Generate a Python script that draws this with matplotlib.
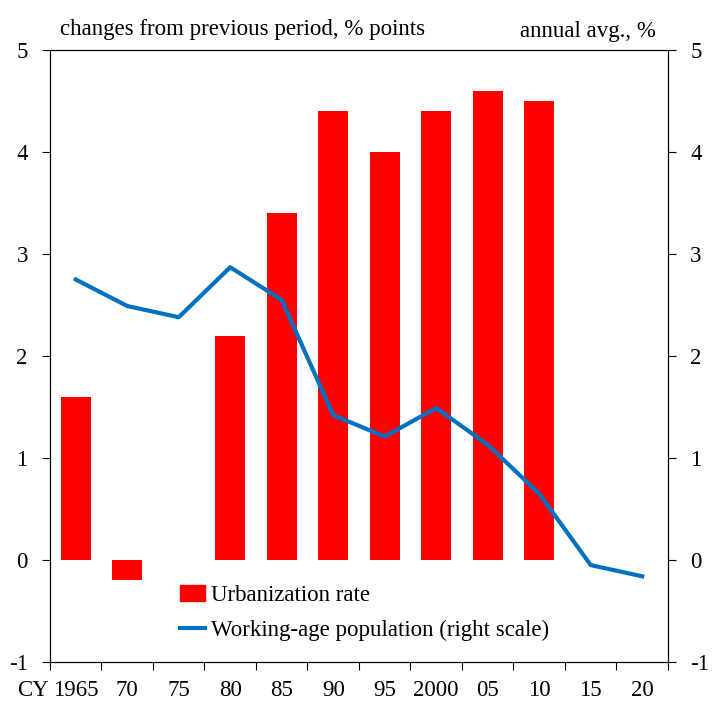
import numpy as np
import matplotlib.pyplot as plt
import matplotlib.transforms as mtrans
from matplotlib.patches import Patch
from matplotlib.lines import Line2D

plt.rcParams['font.family'] = ['Liberation Serif', 'DejaVu Serif']
plt.rcParams['axes.unicode_minus'] = False

labels = ['1965', '70', '75', '80', '85', '90', '95', '2000', '05', '10', '15', '20']
urban = [1.6, -0.2, 0.0, 2.2, 3.4, 4.4, 4.0, 4.4, 4.6, 4.5, np.nan, np.nan]
workage = [2.75, 2.49, 2.38, 2.87, 2.55, 1.42, 1.21, 1.49, 1.13, 0.65, -0.05, -0.16]

x = np.arange(len(labels))
fs = 16.5

fig = plt.figure(figsize=(7.18, 7.09), dpi=100)
ax = fig.add_axes([0.0696, 0.0663, 0.8607, 0.8632])
ax.bar(x, urban, width=0.58, color='#FF0000')
ax2 = ax.twinx()
ax2.plot(x, workage, color='#0070C0', lw=3)

for a in (ax, ax2):
    a.set_ylim(-1, 5)
    a.set_yticks(range(-1, 6))
    a.tick_params(labelsize=fs, length=6, width=0.8, direction='out')
ax.set_xlim(-0.5, len(labels) - 0.5)
ax.set_xticks(np.arange(-0.5, len(labels), 1))
ax.set_xticklabels([])
ax.set_xticks(x, minor=True)
ax.set_xticklabels(labels, minor=True)
ax.tick_params(axis='x', which='minor', length=0, pad=13, labelsize=fs)
ax.tick_params(axis='y', pad=10)
ax2.tick_params(axis='y', pad=10)

trans = mtrans.blended_transform_factory(ax.transData, ax.transAxes)
ax.text(-0.53, -0.047, 'CY', transform=trans, ha='right', va='center', fontsize=fs)

fig.text(0.084, 0.958, 'changes from previous period, % points', fontsize=fs, va='center')
fig.text(0.913, 0.956, 'annual avg., %', fontsize=fs, va='center', ha='right')

handles = [Patch(color='#FF0000'), Line2D([], [], color='#0070C0', lw=3)]
ax.legend(handles, ['Urbanization rate', 'Working-age population (right scale)'],
          loc='lower left', bbox_to_anchor=(0.196, 0.02), frameon=False, fontsize=fs,
          handlelength=1.1, handletextpad=0.25, labelspacing=0.6, borderaxespad=0)

plt.savefig('out.png')
